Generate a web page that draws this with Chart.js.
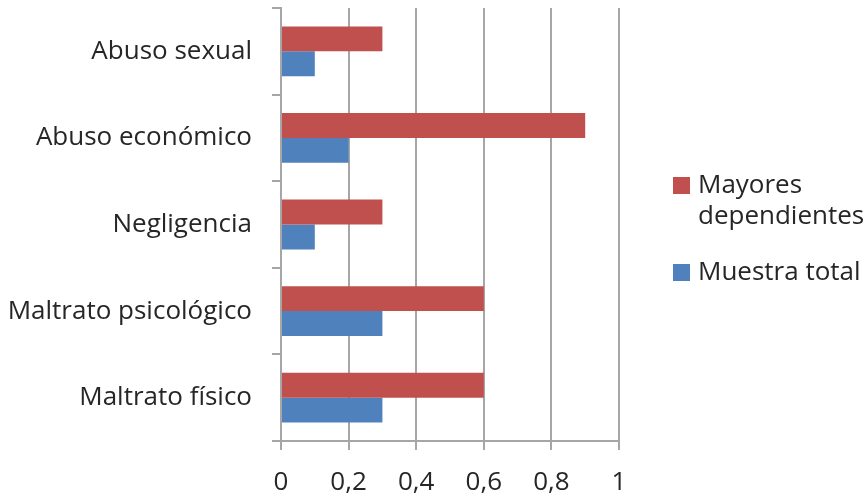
<!DOCTYPE html>
<html>
<head>
<meta charset="utf-8">
<script src="https://cdn.jsdelivr.net/npm/chart.js@4/dist/chart.umd.min.js"></script>
<style>
    html, body { margin: 0; padding: 0; background: #fff; overflow: hidden; }
    #wrap { width: 864px; height: 497px; position: relative; }
</style>
</head>
<body>
<div id="wrap"><canvas id="chart" width="864" height="497"></canvas></div>
<script>
// Data
const categories = ['Abuso sexual', 'Abuso económico', 'Negligencia', 'Maltrato psicológico', 'Maltrato físico'];
const seriesNames = ['Mayores dependientes', 'Muestra total'];
const mayoresDependientes = [0.3, 0.9, 0.3, 0.6, 0.6];
const muestraTotal = [0.1, 0.2, 0.1, 0.3, 0.3];
const xTicks = [0, 0.2, 0.4, 0.6, 0.8, 1];

const colors = ['#C0504D', '#4F81BD'];
const gridColor = '#A6A6A6';
const textColor = '#262626';
const fontFamily = '"Open Sans", Lato, sans-serif';
const fontSize = 26;

// draws the legend to the right of the plot, wrapping long names
const sideLegend = {
    id: 'sideLegend',
    afterDraw(chart) {
        let ctx = chart.ctx;
        let area = chart.chartArea;
        let boxX = area.right + 54;
        let textX = boxX + 25;
        let maxWidth = chart.width - textX + 4;
        let lineH = 31;
        ctx.save();
        ctx.font = fontSize + 'px ' + fontFamily;
        ctx.textBaseline = 'middle';
        ctx.fillStyle = textColor;
        let items = chart.data.datasets.map(ds => {
            let words = ds.label.split(' ');
            let lines = [];
            let cur = '';
            words.forEach(w => {
                let test = cur ? cur + ' ' + w : w;
                if (cur && ctx.measureText(test).width > maxWidth) {
                    lines.push(cur);
                    cur = w;
                } else {
                    cur = test;
                }
            });
            lines.push(cur);
            return { lines: lines, color: ds.backgroundColor };
        });
        let gap = 25;
        let total = items.reduce((s, it) => s + it.lines.length * lineH, 0) + gap * (items.length - 1);
        let y = (area.top + area.bottom) / 2 - total / 2 + 5;
        items.forEach(it => {
            ctx.fillStyle = it.color;
            ctx.fillRect(boxX, y + lineH / 2 - 9, 17, 17);
            ctx.fillStyle = textColor;
            it.lines.forEach((ln, i) => {
                ctx.fillText(ln, textX, y + lineH / 2 + i * lineH);
            });
            y += it.lines.length * lineH + gap;
        });
        ctx.restore();
    }
};

let chart = new Chart(document.getElementById('chart'), {
    type: 'bar',
    data: {
        labels: categories,
        datasets: [{
            label: seriesNames[0],
            data: mayoresDependientes,
            backgroundColor: colors[0],
        }, {
            label: seriesNames[1],
            data: muestraTotal,
            backgroundColor: colors[1],
        }],
    },
    options: {
        indexAxis: 'y',
        responsive: false,
        animation: false,
        devicePixelRatio: 1,
        layout: {
            padding: { top: 8, right: 245, bottom: 0, left: 0 }
        },
        datasets: {
            bar: {
                barPercentage: 1,
                categoryPercentage: 0.575,
            }
        },
        plugins: {
            legend: { display: false },
            tooltip: { enabled: false },
        },
        scales: {
            x: {
                min: 0,
                max: 1,
                afterBuildTicks: (scale) => {
                    scale.ticks = xTicks.map(v => ({ value: v }));
                },
                afterFit: (scale) => { scale.height = 56; },
                grid: {
                    color: gridColor,
                    lineWidth: 2,
                    tickLength: 9,
                },
                border: { color: gridColor, width: 2 },
                ticks: {
                    color: textColor,
                    padding: 17,
                    maxRotation: 0,
                    font: { family: fontFamily, size: fontSize },
                    callback: (v) => String(Math.round(v * 10) / 10).replace('.', ','),
                },
            },
            y: {
                afterFit: (scale) => {
                    scale.width = 281;
                    scale.paddingTop = 0;
                    scale.paddingBottom = 0;
                },
                grid: {
                    offset: true,
                    drawOnChartArea: false,
                    color: gridColor,
                    lineWidth: 2,
                    tickLength: 9,
                },
                border: { color: gridColor, width: 2 },
                ticks: {
                    color: textColor,
                    padding: 20,
                    font: { family: fontFamily, size: fontSize },
                },
            },
        },
    },
    plugins: [sideLegend],
});
</script>
</body>
</html>
